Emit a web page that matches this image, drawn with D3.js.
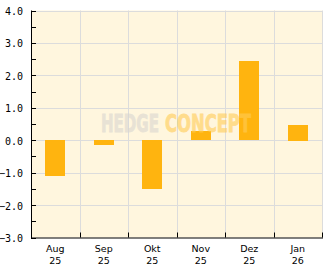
<!DOCTYPE html>
<html>
<head>
<meta charset="utf-8">
<script src="https://cdn.jsdelivr.net/npm/d3@7"></script>
<style>
  body { margin: 0; background: #fff; }
  svg { display: block; }
</style>
</head>
<body>
<svg id="chart" width="332" height="269"></svg>
<script>
// data
var months = ["Aug", "Sep", "Okt", "Nov", "Dez", "Jan"];
var years = ["25", "25", "25", "25", "25", "26"];
var values = [-1.1, -0.15, -1.5, 0.28, 2.45, 0.48];
var yTicks = [-3, -2, -1, 0, 1, 2, 3, 4];
var yMinor = [-2.5, -1.5, -0.5, 0.5, 1.5, 2.5, 3.5];

var svg = d3.select("#chart");
var pLeft = 31, pRight = 322, pTop = 10.5, pBottom = 237.5;

var x = d3.scaleBand().domain(months).range([pLeft, pRight]).padding(0);
var y = d3.scaleLinear().domain([-3, 4]).range([pBottom, pTop]);

function xEdge(d) { return d == "end" ? pRight + 0.5 : Math.round(x(d)) + 0.5; }
function yLine(d) { return Math.round(y(d)) + 0.5; }

// plot background
svg.append("rect")
  .attr("x", pLeft).attr("y", pTop)
  .attr("width", pRight - pLeft).attr("height", pBottom - pTop)
  .attr("fill", "#fff6de");

// grid
svg.append("g").selectAll("line")
  .data(yTicks.slice(1))
  .enter().append("line")
    .attr("x1", pLeft).attr("x2", pRight)
    .attr("y1", yLine).attr("y2", yLine)
    .attr("stroke", "#dcdcdc");

svg.append("g").selectAll("line")
  .data(months.slice(1).concat(["end"]))
  .enter().append("line")
    .attr("x1", xEdge).attr("x2", xEdge)
    .attr("y1", pTop).attr("y2", pBottom)
    .attr("stroke", "#dcdcdc");

// bars
var bw = Math.round(x.bandwidth() * 0.42);
svg.append("g").selectAll("rect")
  .data(values)
  .enter().append("rect")
    .attr("x", function(d, i) { return Math.round(x(months[i]) + (x.bandwidth() - bw) / 2); })
    .attr("width", bw)
    .attr("y", function(d) { return Math.round(y(Math.max(0, d))); })
    .attr("height", function(d) { return Math.round(Math.abs(y(d) - y(0))); })
    .attr("fill", "#ffb40f");

// watermark, one text with two coloured parts
var wm = svg.append("text")
  .attr("y", 132)
  .attr("font-family", "'DejaVu Sans Condensed', 'DejaVu Sans'")
  .attr("font-weight", "bold")
  .attr("font-size", "24px")
  .attr("stroke-width", 0.8)
  .attr("opacity", 0.6);
wm.append("tspan")
  .attr("x", 101)
  .attr("textLength", 58).attr("lengthAdjust", "spacingAndGlyphs")
  .attr("fill", "#d9d6d0").attr("stroke", "#d9d6d0")
  .text("HEDGE");
wm.append("tspan")
  .attr("x", 165)
  .attr("textLength", 86).attr("lengthAdjust", "spacingAndGlyphs")
  .attr("fill", "#ffcc55").attr("stroke", "#ffcc55")
  .text("CONCEPT");

// axes lines
svg.append("line")
  .attr("x1", pLeft + 0.5).attr("x2", pLeft + 0.5)
  .attr("y1", pTop).attr("y2", pBottom + 0.5)
  .attr("stroke", "#000");
svg.append("line")
  .attr("x1", pLeft).attr("x2", pRight + 1)
  .attr("y1", pBottom + 0.5).attr("y2", pBottom + 0.5)
  .attr("stroke", "#000");

// y ticks (inside)
svg.append("g").selectAll("line")
  .data(yTicks.concat(yMinor))
  .enter().append("line")
    .attr("x1", pLeft).attr("x2", pLeft + 5)
    .attr("y1", yLine).attr("y2", yLine)
    .attr("stroke", "#000");

// x ticks (inside, at band edges)
svg.append("g").selectAll("line")
  .data(months.slice(1).concat(["end"]))
  .enter().append("line")
    .attr("x1", xEdge).attr("x2", xEdge)
    .attr("y1", pBottom - 5).attr("y2", pBottom)
    .attr("stroke", "#000");

// y labels
svg.append("g").selectAll("text")
  .data(yTicks)
  .enter().append("text")
    .attr("x", 23)
    .attr("y", function(d) { return y(d) + 4.5; })
    .attr("text-anchor", "end")
    .attr("font-family", "'DejaVu Sans Mono', monospace")
    .attr("font-size", "10px")
    .attr("fill", "#000")
    .text(function(d) { return d3.format(".1f")(d); });

// x labels
var xl = svg.append("g").selectAll("text")
  .data(months)
  .enter().append("text")
    .attr("text-anchor", "middle")
    .attr("font-family", "'DejaVu Sans', sans-serif")
    .attr("font-size", "9.5px")
    .attr("fill", "#000");
xl.append("tspan")
  .attr("x", function(d) { return x(d) + x.bandwidth() / 2; })
  .attr("y", 252)
  .text(function(d) { return d; });
xl.append("tspan")
  .attr("x", function(d) { return x(d) + x.bandwidth() / 2; })
  .attr("y", 264)
  .text(function(d, i) { return years[i]; });
</script>
</body>
</html>
